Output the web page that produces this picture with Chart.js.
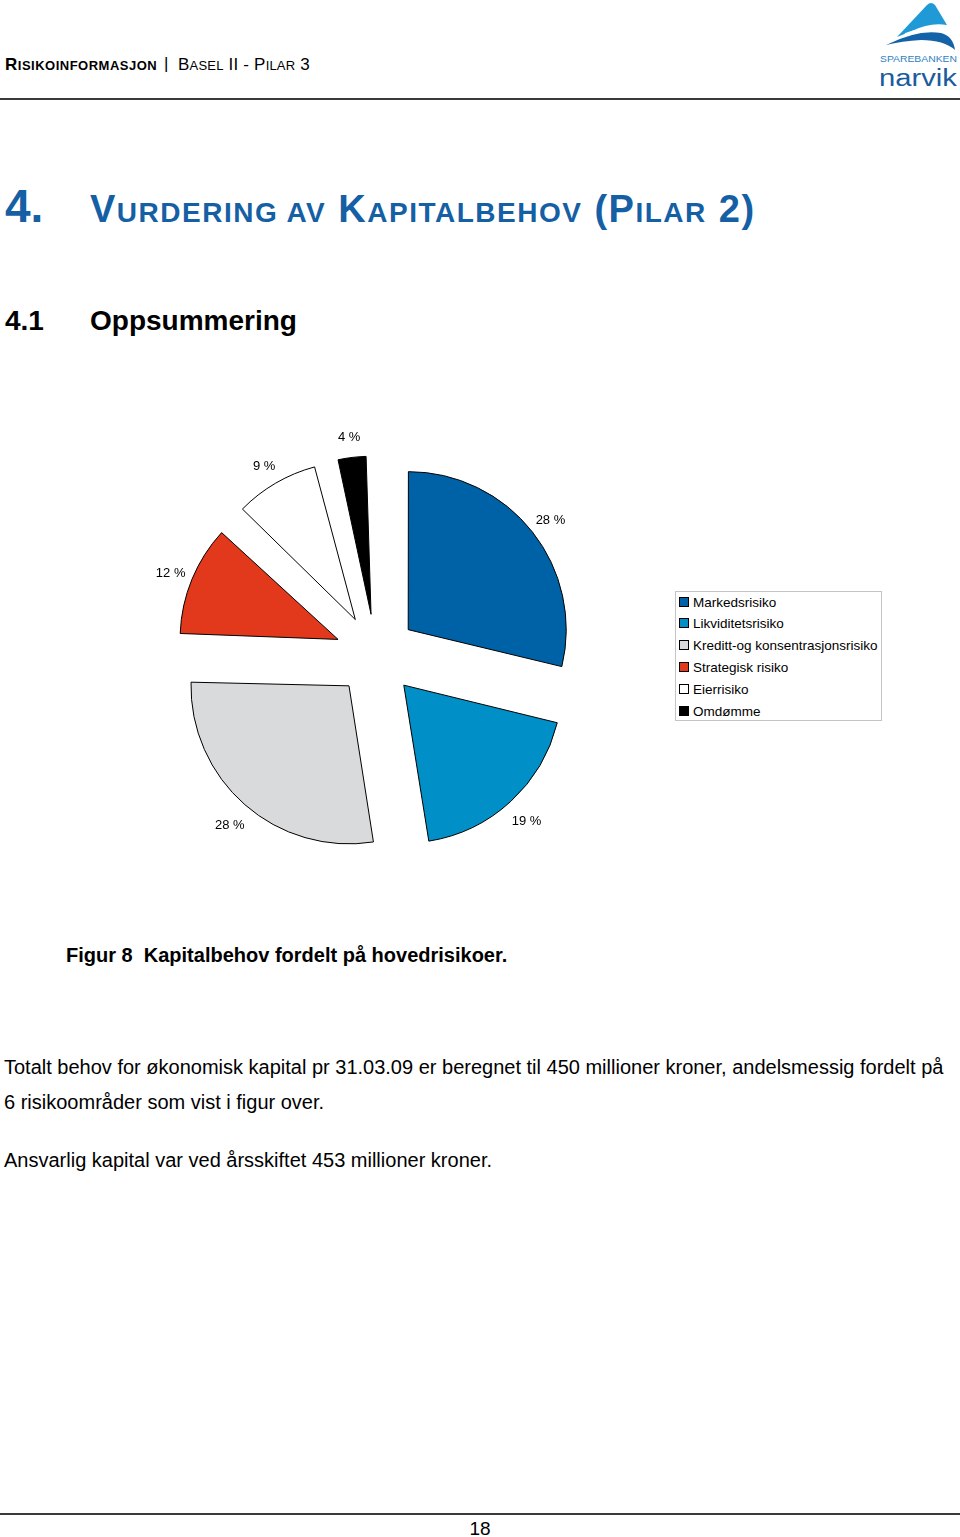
<!DOCTYPE html>
<html lang="no">
<head>
  <meta charset="UTF-8" />
  <title>Kapitalbehov fordelt på hovedrisikoer</title>
  <style>
    html, body { margin: 0; padding: 0; background: #fff; }
    body { width: 960px; height: 1537px; position: relative; overflow: hidden;
           font-family: "Liberation Sans", Arial, sans-serif; color: #000; }
    .abs { position: absolute; white-space: nowrap; line-height: 1; }
    .rule { position: absolute; left: 0; width: 960px; height: 0; border-top: 2px solid #3a3a3a; }
    .h1 { color: #155fa5; font-weight: bold; }
    .sc13 { font-size: 13px; }
    .sc28 { font-size: 28px; }
    #pie { position: absolute; left: 130px; top: 410px; }
    #legend { position: absolute; left: 675px; top: 591px; width: 205px; height: 128px;
              border: 1px solid #c4c4c4; font-size: 13.5px; }
    #legend div { position: absolute; left: 3px; line-height: 1; white-space: nowrap; }
    #legend span.sw { display: inline-block; width: 8px; height: 8px; border: 1px solid #000;
                      margin-right: 4px; vertical-align: 0px; }
  </style>
</head>
<body>
  <!-- topptekst -->
  <div class="abs" style="left:5px; top:56px; font-size:17px; font-weight:bold; letter-spacing:0.5px;">R<span class="sc13">ISIKOINFORMASJON</span></div>
  <div class="abs" style="left:164px; top:55px; font-size:17px;">|</div>
  <div class="abs" style="left:178px; top:56px; font-size:17px; letter-spacing:0.2px;">B<span class="sc13">ASEL</span> II - P<span class="sc13">ILAR</span> 3</div>
  <svg class="abs" style="left:870px; top:0;" width="90" height="95" viewBox="870 0 90 95">
    <path d="M897 37 L927 5 Q931 1 935 5 L947 25 Q930 22 912 31 Z" fill="#1f9ad6" />
    <path d="M886 45 Q918 29 941 33 Q953 36 955 50 Q944 40 921 40 Q902 41 886 45 Z" fill="#1462a8" />
    <path d="M905 34 Q925 26 944 29" stroke="#fff" stroke-width="1.5" fill="none" />
    <text x="880" y="62" font-size="9" fill="#2f80c2" textLength="77" lengthAdjust="spacingAndGlyphs"
          font-family="Liberation Sans, Arial, sans-serif">SPAREBANKEN</text>
    <text transform="translate(879 86) scale(1 1.25)" font-size="19" fill="#1b5c9e" textLength="78"
          lengthAdjust="spacingAndGlyphs" font-family="Liberation Sans, Arial, sans-serif">narvik</text>
  </svg>
  <div class="rule" style="top:98px;"></div>

  <!-- overskrifter -->
  <div class="abs h1" style="left:5px; top:183px; font-size:46px;">4.</div>
  <div class="abs h1" style="left:90px; top:190px; font-size:38px; letter-spacing:1.5px;">V<span class="sc28">URDERING AV</span> K<span class="sc28">APITALBEHOV</span> (P<span class="sc28">ILAR</span> 2)</div>
  <div class="abs" style="left:5px; top:307px; font-size:28px; font-weight:bold;">4.1</div>
  <div class="abs" style="left:90px; top:307px; font-size:28px; font-weight:bold;">Oppsummering</div>

  <!-- diagram -->
  <canvas id="pie" width="492" height="490"></canvas>
  <div id="legend"></div>

  <div class="abs" style="left:66px; top:945px; font-size:20px; font-weight:bold;">Figur 8&nbsp; Kapitalbehov fordelt på hovedrisikoer.</div>

  <div class="abs" style="left:4px; top:1057px; font-size:20px;">Totalt behov for økonomisk kapital pr 31.03.09 er beregnet til 450 millioner kroner, andelsmessig fordelt på</div>
  <div class="abs" style="left:4px; top:1092px; font-size:20px;">6 risikoområder som vist i figur over.</div>
  <div class="abs" style="left:4px; top:1150px; font-size:20px;">Ansvarlig kapital var ved årsskiftet 453 millioner kroner.</div>

  <!-- bunntekst -->
  <div class="rule" style="top:1513px;"></div>
  <div class="abs" style="left:0; width:960px; text-align:center; top:1519px; font-size:19px;">18</div>

  <script src="https://cdn.jsdelivr.net/npm/chart.js"></script>
  <script>
    // Risikoområder og andel av kapitalbehov (%)
    const labels = ['Markedsrisiko', 'Likviditetsrisiko', 'Kreditt-og konsentrasjonsrisiko',
                    'Strategisk risiko', 'Eierrisiko', 'Omdømme'];
    const values = [28.4, 18.5, 27.5, 11.5, 9.0, 3.8];
    const colors = ['#0062a6', '#008fc6', '#d9dadc', '#e2381b', '#ffffff', '#000000'];

    const RADIUS = 158;   // ytre radius
    const SHIFT = 41;     // hvor langt hvert stykke er trukket ut

    // Chart.js legger offset*fix til radien for smale stykker; trekk det fra igjen
    const keepRadius = {
      id: 'keepRadius',
      beforeDatasetsDraw(chart) {
        chart.getDatasetMeta(0).data.forEach(arc => {
          const fix = 1 - Math.sin(Math.min(Math.PI, arc.circumference));
          arc.outerRadius = RADIUS - SHIFT * fix;
        });
      }
    };

    // prosent-etiketter utenfor hvert stykke
    const pctLabels = {
      id: 'pctLabels',
      afterDatasetsDraw(chart) {
        const ctx = chart.ctx;
        ctx.save();
        ctx.font = '13px "Liberation Sans", Arial, sans-serif';
        ctx.fillStyle = '#000';
        ctx.textAlign = 'center';
        ctx.textBaseline = 'middle';
        chart.getDatasetMeta(0).data.forEach((arc, i) => {
          const mid = (arc.startAngle + arc.endAngle) / 2;
          const d = RADIUS + SHIFT + 23;
          ctx.fillText(Math.round(values[i]) + ' %', arc.x + Math.cos(mid) * d, arc.y + 3 + Math.sin(mid) * d);
        });
        ctx.restore();
      }
    };

    const chart = new Chart(document.getElementById('pie'), {
      type: 'pie',
      data: {
        labels: labels,
        datasets: [{
          data: values,
          backgroundColor: colors,
          borderColor: '#000',
          borderWidth: 1,
          borderJoinStyle: 'miter',
          offset: SHIFT * 4,
          clip: false
        }]
      },
      options: {
        responsive: false,
        animation: false,
        events: [],
        radius: RADIUS,
        layout: { padding: 0 },
        plugins: { legend: { display: false }, tooltip: { enabled: false } }
      },
      plugins: [keepRadius, pctLabels]
    });

    // legende (HTML) bygget fra samme lister
    const legendEl = document.getElementById('legend');
    const rowTops = [4, 25, 47, 69, 91, 113];
    labels.forEach((lab, i) => {
      const row = document.createElement('div');
      row.style.top = rowTops[i] + 'px';
      const sw = document.createElement('span');
      sw.className = 'sw';
      sw.style.background = colors[i];
      row.appendChild(sw);
      row.appendChild(document.createTextNode(lab));
      legendEl.appendChild(row);
    });
  </script>
</body>
</html>
